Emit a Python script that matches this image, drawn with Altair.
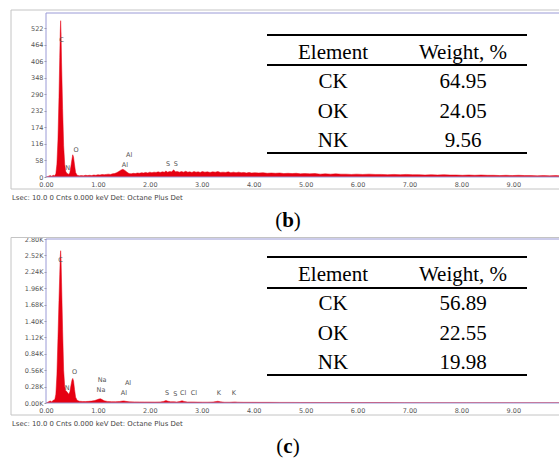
import altair as alt
import pandas as pd

# ---------------- data ----------------
# EDS spectrum (b): (energy keV, counts)
b_spectrum = [
    (0.00, 0), (0.04, 2), (0.08, 5), (0.11, 3), (0.14, 6), (0.17, 4), (0.19, 12), (0.21, 45),
    (0.23, 130), (0.25, 280), (0.265, 420), (0.275, 510), (0.282, 548), (0.29, 505), (0.30, 400),
    (0.32, 240), (0.34, 110), (0.36, 45), (0.38, 20), (0.40, 13), (0.42, 11), (0.44, 9), (0.46, 16),
    (0.48, 38), (0.50, 62), (0.515, 78), (0.53, 70), (0.55, 42), (0.57, 16), (0.60, 6), (0.64, 4),
    (0.68, 5), (0.72, 4), (0.76, 6), (0.80, 5), (0.84, 6), (0.88, 5), (0.92, 7), (0.96, 6),
    (1.00, 8), (1.04, 7), (1.08, 9), (1.12, 8), (1.16, 9), (1.20, 10), (1.24, 9), (1.28, 11),
    (1.32, 12), (1.36, 15), (1.40, 19), (1.44, 24), (1.48, 27), (1.52, 23), (1.56, 17), (1.60, 12),
    (1.64, 11), (1.68, 13), (1.72, 12), (1.76, 14), (1.80, 13), (1.84, 15), (1.88, 14), (1.92, 16),
    (1.96, 14), (2.00, 17), (2.04, 15), (2.08, 17), (2.12, 16), (2.16, 18), (2.20, 16), (2.24, 18),
    (2.28, 17), (2.31, 21), (2.34, 17), (2.38, 19), (2.42, 18), (2.46, 25), (2.49, 18), (2.53, 19),
    (2.57, 17), (2.61, 19), (2.65, 17), (2.69, 20), (2.73, 17), (2.77, 18), (2.81, 16), (2.85, 19),
    (2.89, 17), (2.93, 18), (2.97, 16), (3.01, 19), (3.06, 17), (3.11, 18), (3.16, 16), (3.21, 18),
    (3.26, 17), (3.31, 19), (3.36, 16), (3.41, 17), (3.46, 16), (3.51, 18), (3.56, 15), (3.61, 17),
    (3.66, 15), (3.71, 17), (3.76, 15), (3.81, 16), (3.86, 14), (3.91, 16), (3.96, 14), (4.02, 15),
    (4.10, 14), (4.18, 15), (4.26, 13), (4.34, 14), (4.42, 13), (4.50, 14), (4.58, 12), (4.66, 13),
    (4.74, 12), (4.82, 13), (4.90, 11), (4.98, 12), (5.08, 11), (5.18, 12), (5.28, 10), (5.38, 11),
    (5.48, 10), (5.58, 11), (5.68, 10), (5.78, 10), (5.88, 9), (5.98, 10), (6.10, 9), (6.22, 10),
    (6.34, 9), (6.46, 9), (6.58, 8), (6.70, 9), (6.82, 8), (6.94, 9), (7.06, 8), (7.18, 8),
    (7.30, 7), (7.42, 8), (7.54, 7), (7.66, 8), (7.78, 7), (7.90, 7), (8.02, 6), (8.14, 7),
    (8.26, 6), (8.38, 7), (8.50, 6), (8.62, 6), (8.74, 5), (8.86, 6), (8.98, 5), (9.10, 6),
    (9.22, 5), (9.34, 5), (9.46, 4), (9.58, 5), (9.70, 4), (9.82, 5), (9.94, 4), (10.00, 4),
]

# EDS spectrum (c): (energy keV, counts)
c_spectrum = [
    (0.00, 0), (0.04, 15), (0.08, 35), (0.11, 20), (0.14, 45), (0.17, 60), (0.19, 150), (0.21, 480),
    (0.23, 1100), (0.25, 1750), (0.265, 2200), (0.275, 2500), (0.282, 2600), (0.29, 2450),
    (0.30, 2050), (0.32, 1250), (0.34, 560), (0.36, 280), (0.38, 210), (0.40, 195), (0.42, 170),
    (0.44, 150), (0.46, 190), (0.48, 300), (0.50, 390), (0.515, 420), (0.53, 380), (0.55, 230),
    (0.57, 100), (0.60, 45), (0.64, 30), (0.70, 26), (0.76, 25), (0.82, 28), (0.88, 33), (0.94, 42),
    (0.98, 55), (1.02, 68), (1.05, 72), (1.08, 58), (1.12, 38), (1.18, 27), (1.26, 23), (1.34, 22),
    (1.42, 26), (1.47, 33), (1.50, 36), (1.54, 28), (1.60, 21), (1.70, 19), (1.80, 18), (1.90, 17),
    (2.00, 17), (2.10, 16), (2.20, 18), (2.26, 26), (2.31, 42), (2.35, 30), (2.40, 20), (2.46, 22),
    (2.52, 17), (2.57, 24), (2.62, 38), (2.66, 27), (2.72, 17), (2.82, 18), (2.92, 15), (3.02, 14),
    (3.12, 14), (3.22, 17), (3.31, 30), (3.36, 20), (3.44, 13), (3.54, 13), (3.60, 16), (3.64, 18),
    (3.69, 14), (3.80, 12), (3.95, 12), (4.10, 11), (4.30, 11), (4.50, 10), (4.70, 10), (4.90, 9),
    (5.10, 9), (5.40, 8), (5.70, 8), (6.00, 7), (6.30, 7), (6.60, 7), (6.90, 6), (7.20, 6),
    (7.50, 6), (7.80, 5), (8.10, 5), (8.40, 5), (8.70, 5), (9.00, 4), (9.40, 4), (9.80, 4), (10.00, 4),
]

# peak annotations
b_peak_labels = ["C", "N", "O", "Al", "Al", "S", "S"]
b_peak_energy = [0.30, 0.42, 0.58, 1.60, 1.52, 2.35, 2.50]
b_peak_counts = [480, 32, 95, 77, 42, 46, 46]

c_peak_labels = ["C", "N", "O", "Na", "Na", "Al", "Al", "S", "S", "Cl", "Cl", "K", "K"]
c_peak_energy = [0.28, 0.41, 0.55, 1.08, 1.06, 1.58, 1.50, 2.33, 2.49, 2.64, 2.85, 3.33, 3.62]
c_peak_counts = [2440, 256, 529, 393, 222, 341, 171, 171, 154, 171, 171, 171, 171]

# composition tables
elements = ["CK", "OK", "NK"]
b_weights = ["64.95", "24.05", "9.56"]
c_weights = ["56.89", "22.55", "19.98"]

# axis ticks
x_ticks = [0, 1, 2, 3, 4, 5, 6, 7, 8, 9]
b_y_ticks = [0, 58, 116, 174, 232, 290, 348, 406, 464, 522]
c_y_ticks = [0, 280, 560, 840, 1120, 1400, 1680, 1960, 2240, 2520, 2800]

footer_text = "Lsec: 10.0 0 Cnts  0.000 keV  Det: Octane Plus Det"

# ---------------- style ----------------
RED = "#e60012"
BLUE = "#9a9ad6"
GRAY = "#c4c4c4"
SANS = "DejaVu Sans"
SERIF = "Liberation Serif"
W, H = 513, 164
one = pd.DataFrame({"k": [0]})


def hrule(x1, x2, y, color, sw=1.0):
    return alt.Chart(one).mark_rule(color=color, strokeWidth=sw).encode(
        x=alt.value(x1), x2=alt.value(x2), y=alt.value(y))


def vrule(x, y1, y2, color, sw=1.0):
    return alt.Chart(one).mark_rule(color=color, strokeWidth=sw).encode(
        x=alt.value(x), y=alt.value(y1), y2=alt.value(y2))


def label(txt, x, y, size, font, align="left", baseline="alphabetic",
          weight="normal", color="black", line_height=None):
    kw = dict(align=align, baseline=baseline, fontSize=size, font=font,
              fontWeight=weight, color=color)
    if line_height is not None:
        kw["lineHeight"] = line_height
    return alt.Chart(one).mark_text(**kw).encode(
        x=alt.value(x), y=alt.value(y), text=alt.value(txt))


def panel(spectrum, pk_lab, pk_e, pk_c, ydomain, yticks, ylabel_expr, weights,
          letter, letter_w, frame_top, box_top, box_bottom, lines_y, text_y):
    spec_df = pd.DataFrame(spectrum, columns=["energy", "counts"])
    lab_df = pd.DataFrame({"label": pk_lab, "energy": pk_e, "counts": pk_c})

    xscale = alt.Scale(domain=[0, 9.88], nice=False, zero=False)
    yscale = alt.Scale(domain=ydomain, nice=False)
    xaxis = alt.Axis(values=x_ticks, format=".2f", labelFont=SANS, labelFontSize=6.5,
                     labelColor="#555", ticks=False, domain=False, grid=False,
                     labelPadding=4, labelFlush=False, title=None)
    yaxis_kw = dict(values=yticks, labelFont=SANS, labelFontSize=6.5, labelColor="#555",
                    tickSize=2, tickColor="#999", domain=False, grid=False,
                    labelPadding=1, labelFlush=False, title=None)
    if ylabel_expr:
        yaxis_kw["labelExpr"] = ylabel_expr
    yaxis = alt.Axis(**yaxis_kw)

    box = alt.Chart(one).mark_rect(opacity=0).encode(
        x=alt.value(-46), x2=alt.value(514), y=alt.value(box_top), y2=alt.value(box_bottom))

    frame = [
        hrule(-35, W, frame_top, GRAY),
        vrule(-35, frame_top, H + 12, GRAY),
        hrule(-35, W, H + 12, GRAY),
    ]

    area = alt.Chart(spec_df).mark_area(color=RED, stroke=RED, strokeWidth=0.5, clip=True).encode(
        x=alt.X("energy:Q", scale=xscale, axis=xaxis),
        y=alt.Y("counts:Q", scale=yscale, axis=yaxis),
    )

    border = [
        hrule(0, W, 0, BLUE),
        vrule(0, 0, H, BLUE),
        hrule(0, W, H, BLUE),
    ]

    peaks = alt.Chart(lab_df).mark_text(font=SANS, fontSize=6.5, color="#555",
                                        baseline="middle").encode(
        x=alt.X("energy:Q", scale=xscale, axis=xaxis),
        y=alt.Y("counts:Q", scale=yscale, axis=yaxis),
        text="label:N",
    )

    t_lines = [hrule(221, 481, y, "black", 2) for y in lines_y]
    col1 = label(["Element"] + elements, 287, text_y, 21, SERIF, align="center",
                 line_height=29.3)
    col2 = label(["Weight, %"] + weights, 417, text_y, 21, SERIF, align="center",
                 line_height=29.3)

    footer = label(footer_text, -34, H + 20.5, 6.9, SANS, baseline="middle", color="#444")

    cx = 242
    lt = [
        label("(", cx - letter_w / 2, 214, 21, SERIF, align="right"),
        label(letter, cx, 214, 21, SERIF, align="center", weight="bold"),
        label(")", cx + letter_w / 2, 214, 21, SERIF, align="left"),
    ]

    layers = [box] + frame + [area] + border + [peaks] + t_lines + [col1, col2, footer] + lt
    return alt.layer(*layers).properties(width=W, height=H)


top = panel(b_spectrum, b_peak_labels, b_peak_energy, b_peak_counts, [0, 575], b_y_ticks, None,
            b_weights, "b", 11.7, -3, -13, 223, [22, 52, 140], 46)
bottom = panel(c_spectrum, c_peak_labels, c_peak_energy, c_peak_counts, [0, 2800], c_y_ticks,
               "format(datum.value / 1000, '.2f') + 'K'",
               c_weights, "c", 9.3, -1.5, -2, 221, [18, 49, 136], 42)

chart = alt.vconcat(top, bottom, spacing=0, bounds="full").properties(
    padding=0, background="white"
).configure_view(strokeWidth=0)

chart.save("out.html", embed_options={"renderer": "svg", "actions": False})
